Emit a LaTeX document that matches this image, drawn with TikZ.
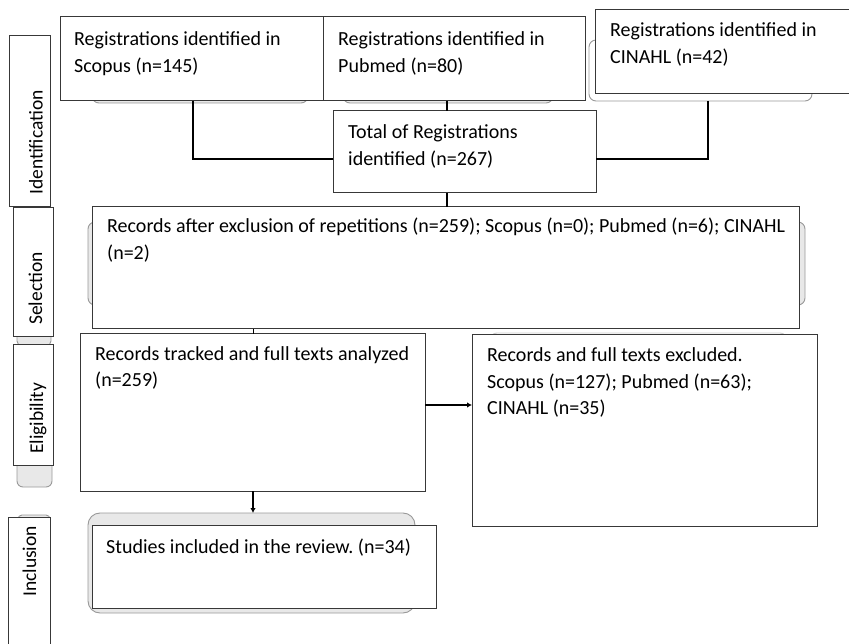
\documentclass[tikz,border=0pt]{standalone}
\usepackage{fontspec}
\setmainfont{Carlito}
\usetikzlibrary{arrows.meta}
\frenchspacing
\newcommand\boxtext[1]{\parbox[t]{720pt}{\raggedright #1}}
\begin{document}
\begin{tikzpicture}[x=1pt,y=-1pt,
  box/.style={draw=black!78, line width=1pt, fill=white, rectangle, inner sep=0pt, outer sep=0pt, anchor=north west},
  shad/.style={draw=black!40, fill=black!9, line width=0.9pt, rectangle, rounded corners=7pt, inner sep=0pt, outer sep=0pt, anchor=north west},
  shadw/.style={shad, fill=white},
  txt/.style={anchor=base west, inner sep=0pt, font=\fontsize{20}{26.5}\selectfont},
  side/.style={rotate=90, anchor=base west, inner sep=0pt, font=\fontsize{19.5}{24}\selectfont},
  conn/.style={line width=1.9pt, black},
  arr/.style={line width=1.6pt, black, -{Latex[length=5pt,width=5.5pt]}}
]
\useasboundingbox (0,0) rectangle (849,644);

% background shadow shapes
\node[shad, minimum width=216pt, minimum height=63pt] (scopsh) at (92,40) {};
\node[shad, minimum width=210pt, minimum height=63pt] (pubsh) at (343,40) {};
\node[shadw, minimum width=223pt, minimum height=61pt] (cinsh) at (589,40) {};
\node[shad, minimum width=717pt, minimum height=83pt] (selsh) at (88,222) {};
\node[shadw, draw=black!20, minimum width=297pt, minimum height=60pt] (excsh) at (490,333) {};
\node[shad, rounded corners=5pt, minimum width=34pt, minimum height=16pt] (tabA) at (17,330) {};
\node[shad, rounded corners=6pt, minimum width=35pt, minimum height=32pt] (tabB) at (17,455) {};
\node[shad, rounded corners=4pt, minimum width=32pt, minimum height=15pt] (tabC) at (18,515) {};
\node[shad, rounded corners=12pt, minimum width=327pt, minimum height=100pt] (incsh) at (88,513) {};

% side labels
\node[box, minimum width=41pt, minimum height=171pt] (sid) at (9,36) {};
\node[box, minimum width=40pt, minimum height=129pt] (ssel) at (13,208) {};
\node[box, minimum width=40pt, minimum height=120pt] (selig) at (13,345) {};
\node[box, minimum width=42pt, minimum height=140pt] (sinc) at (8,517) {};
\node[side] (lid) at ([shift={(33.5,-12)}]sid.south west) {Identification};
\node[side] (lsel) at ([shift={(29,-12)}]ssel.south west) {Selection};
\node[side] (lelig) at ([shift={(30,-11)}]selig.south west) {Eligibility};
\node[side] (linc) at (36,597) {Inclusion};

% main boxes
\node[box, minimum width=263pt, minimum height=84pt] (scop) at (60,17) {};
\node[box, minimum width=262pt, minimum height=84pt] (pub) at (323,17) {};
\node[box, minimum width=262pt, minimum height=84pt] (cin) at (595,10) {};
\node[box, minimum width=263pt, minimum height=82pt] (tot) at (333,111) {};
\node[box, minimum width=707pt, minimum height=122pt] (sel) at (92,207) {};
\node[box, minimum width=345pt, minimum height=157pt] (elL) at (80,334) {};
\node[box, minimum width=345pt, minimum height=191pt] (exc) at (472,335) {};
\node[box, minimum width=344pt, minimum height=83pt] (inc) at (92,525) {};

% texts
\node[txt] (tscop) at ([shift={(14,29)}]scop.north west) {\boxtext{Registrations identified in\\Scopus (n=145)}};
\node[txt] (tpub) at ([shift={(15,29)}]pub.north west) {\boxtext{Registrations identified in\\Pubmed (n=80)}};
\node[txt] (tcin) at ([shift={(15,27)}]cin.north west) {\boxtext{Registrations identified in\\CINAHL (n=42)}};
\node[txt] (ttot) at ([shift={(15,28)}]tot.north west) {\boxtext{Total of Registrations\\identified (n=267)}};
\node[txt] (tsel) at ([shift={(15,26)}]sel.north west) {\boxtext{Records after exclusion of repetitions (n=259); Scopus (n=0); Pubmed (n=6); CINAHL\\(n=2)}};
\node[txt] (telL) at ([shift={(15,26)}]elL.north west) {\boxtext{Records tracked and full texts analyzed\\(n=259)}};
\node[txt] (texc) at ([shift={(15,27)}]exc.north west) {\boxtext{Records and full texts excluded.\\Scopus (n=127); Pubmed (n=63);\\CINAHL (n=35)}};
\node[txt] (tinc) at ([shift={(14,28)}]inc.north west) {\boxtext{Studies included in the review. (n=34)}};

% connector guides
\coordinate (cxA) at (193,0);
\coordinate (cxB) at (447,0);
\coordinate (cxC) at (708,0);
\coordinate (cxD) at (253,0);
\coordinate (cyA) at (0,159);
\coordinate (cyB) at (0,405);

% connectors
\draw[conn] (scop.south -| cxA) |- (tot.west |- cyA);
\draw[conn] (pub.south -| cxB) -- (tot.north -| cxB);
\draw[conn] (cinsh.south -| cxC) |- (tot.east |- cyA);
\draw[conn] (tot.south -| cxB) -- (sel.north -| cxB);
\draw[line width=1pt] (sel.south -| cxD) -- (elL.north -| cxD);
\draw[arr] (elL.east |- cyB) -- (exc.west |- cyB);
\draw[arr] (elL.south -| cxD) -- (incsh.north -| cxD);
\end{tikzpicture}
\end{document}
